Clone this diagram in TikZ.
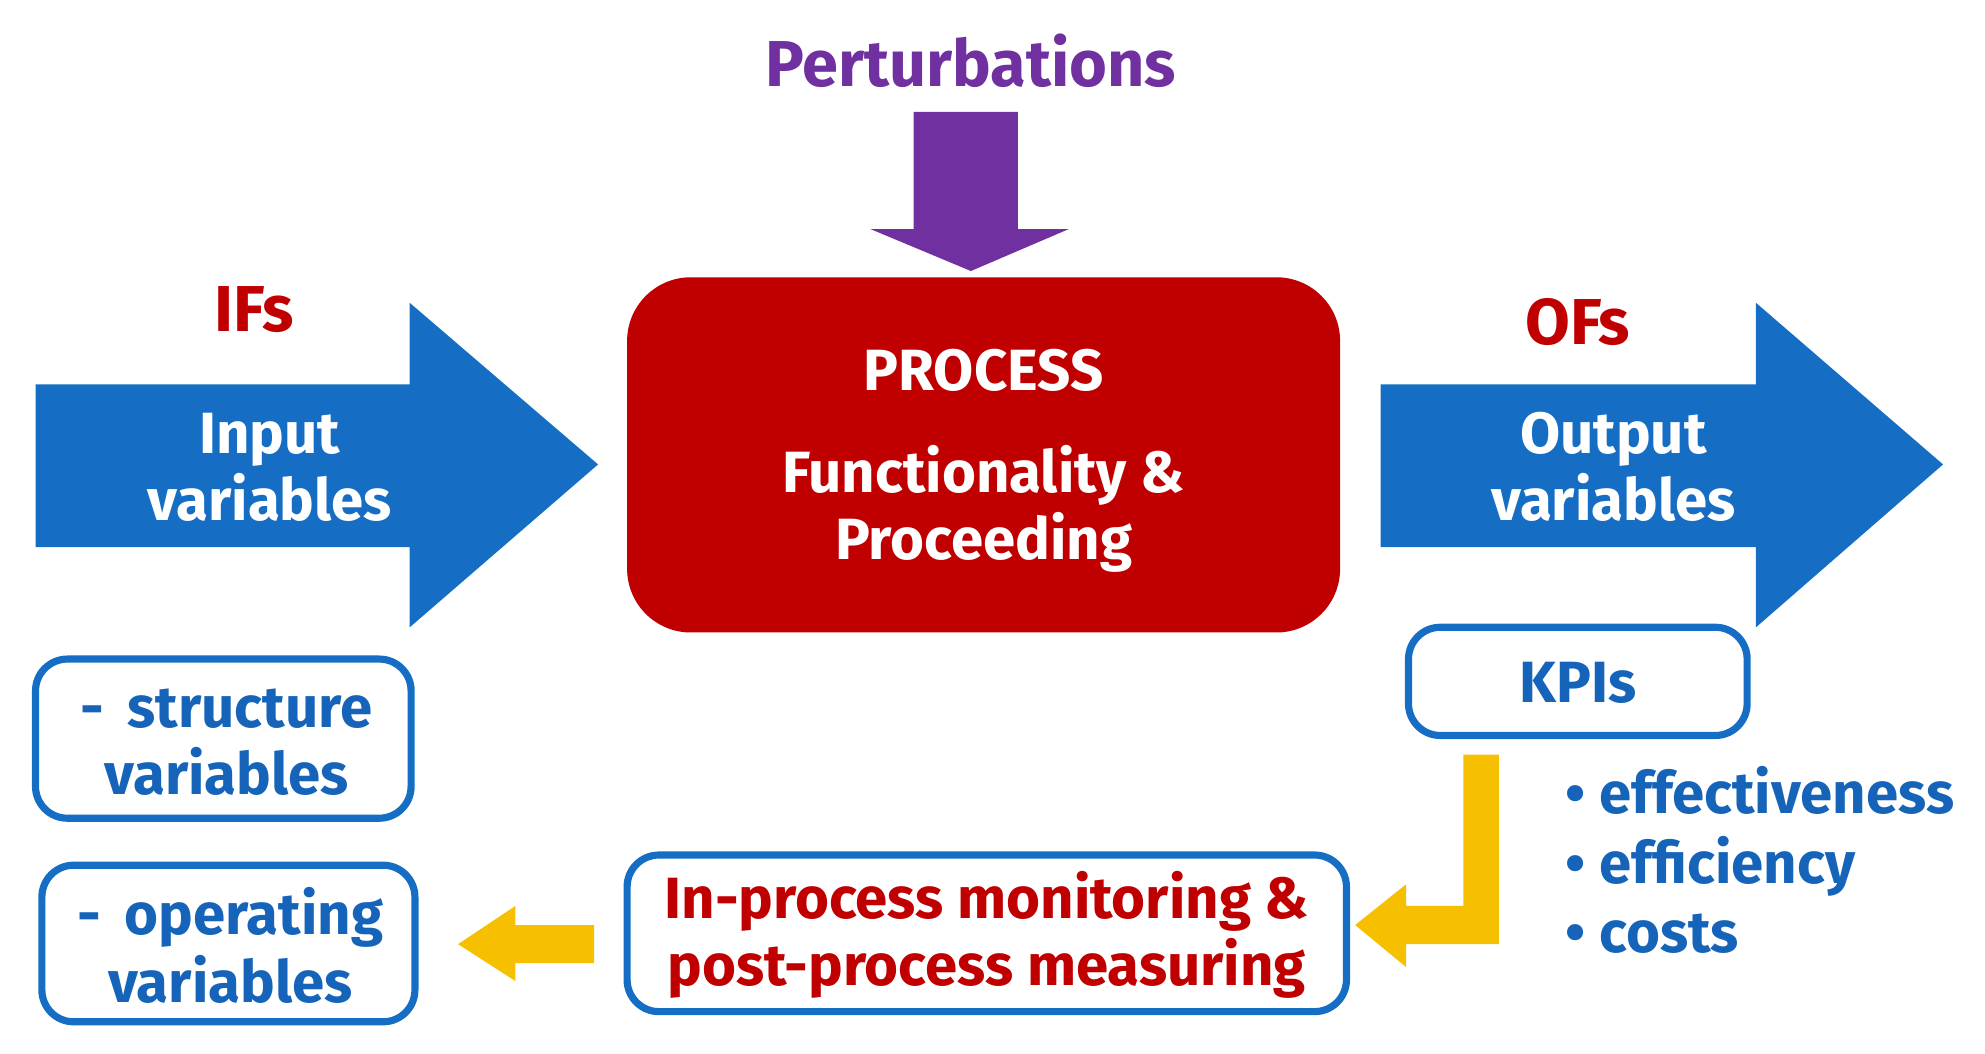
\documentclass[tikz,border=0pt]{standalone}
\usepackage{fontspec}
\setmainfont{Fira Sans}
\definecolor{cblue}{RGB}{21,110,196}
\definecolor{tblue}{RGB}{21,100,185}
\definecolor{cred}{RGB}{192,0,0}
\definecolor{cpurp}{RGB}{112,48,160}
\definecolor{cgold}{RGB}{246,192,0}
\begin{document}
\begin{tikzpicture}[x=0.01cm,y=-0.01cm,
  blu/.style={fill=cblue,draw=none},
  gold/.style={fill=cgold,draw=none},
  fnt/.style={font=\fontsize{13}{15}\selectfont\bfseries},
  wt/.style={fnt,text=white,align=center},
  bt/.style={fnt,text=tblue,align=center},
  rt/.style={fnt,text=cred,align=center},
  bbox/.style={draw=cblue,line width=1.6pt,rounded corners=0.25cm,fill=white}]
\useasboundingbox (0,0) rectangle (1560,828);
% perturbations
\node[text=cpurp,font=\fontsize{14.5}{17}\selectfont\bfseries] (pert) at (763,48) {Perturbations};
\fill[cpurp] (718,88) -- (800,88) -- (800,180) -- (840,180) -- (763,213) -- (684,180) -- (718,180) -- cycle;
% process
\node[fill=cred,rounded corners=0.5cm,minimum width=5.6cm,minimum height=2.79cm] (proc) at (773,357.5) {};
\node[wt] (p1) at (773,291) {PROCESS};
\node[wt] (p2) at (773,400) {Functionality \&\\Proceeding};
% left arrow
\fill[blu] (28,302) -- (322,302) -- (322,238) -- (470,365) -- (322,493) -- (322,430) -- (28,430) -- cycle;
\node[wt] (in) at (212,367) {Input\\variables};
\node[rt,font=\fontsize{14.5}{17}\selectfont\bfseries] (ifs) at (200,243) {IFs};
% right arrow
\fill[blu] (1085,302) -- (1380,302) -- (1380,238) -- (1527,365) -- (1380,493) -- (1380,430) -- (1085,430) -- cycle;
\node[wt] (out) at (1268,367) {Output\\variables};
\node[rt,font=\fontsize{14.5}{17}\selectfont\bfseries] (ofs) at (1240,253) {OFs};
% yellow elbow
\fill[gold] (1150,593) -- (1178,593) -- (1178,742) -- (1105,742) -- (1105,760) -- (1065,727) -- (1105,695) -- (1105,712) -- (1150,712) -- cycle;
% yellow left arrow
\fill[gold] (467,727) -- (467,757) -- (405,757) -- (405,771) -- (360,742) -- (405,712) -- (405,727) -- cycle;
% boxes
\node[bbox,minimum width=2.95cm,minimum height=1.25cm] (sv) at (175.5,580.5) {};
\node[bt] at (178,583) {-\, structure\\variables};
\node[bbox,minimum width=2.93cm,minimum height=1.23cm] (ov) at (179.5,741.5) {};
\node[bt] at (181,743) {-\, operating\\variables};
\node[bbox,minimum width=5.65cm,minimum height=1.23cm] (mon) at (775.5,733.5) {};
\node[rt] at (775.5,735) {In-process monitoring \&\\post-process measuring};
\node[bbox,minimum width=2.66cm,minimum height=0.85cm] (kpi) at (1240,535.5) {};
\node[bt] at (1240,537) {KPIs};
\node[bt,anchor=west,align=left,font=\fontsize{13}{15.5}\selectfont\bfseries] (bul) at (1218,676) {• effectiveness\\• efficiency\\• costs};
\end{tikzpicture}
\end{document}
